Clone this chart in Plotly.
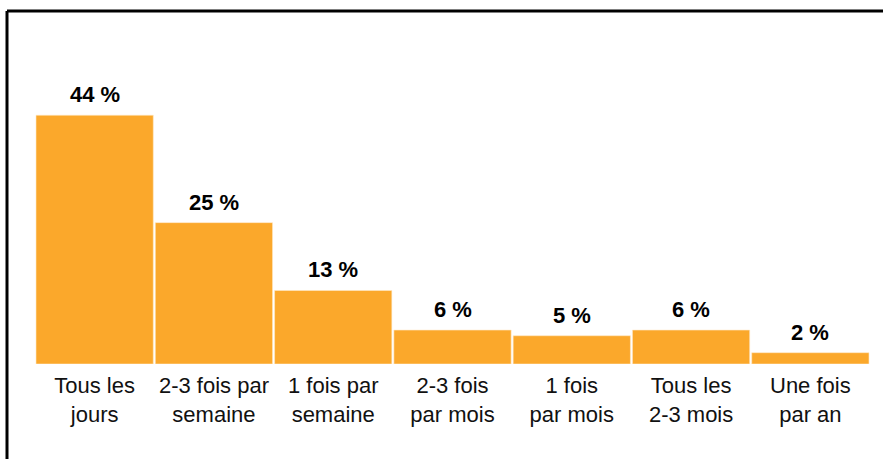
import plotly.graph_objects as go

# Fréquence déclarée
categories = [
    "Tous les<br>jours",
    "2-3 fois par<br>semaine",
    "1 fois par<br>semaine",
    "2-3 fois<br>par mois",
    "1 fois<br>par mois",
    "Tous les<br>2-3 mois",
    "Une fois<br>par an",
]
values = [44, 25, 13, 6, 5, 6, 2]
value_labels = [f"{v} %" for v in values]

BAR_COLOR = "#FBA82B"
FONT = "Liberation Sans, Arial, sans-serif"

W, H = 883, 459
M_L, M_R, M_T, M_B = 35, 13, 40, 95
plot_w = W - M_L - M_R
plot_h = H - M_T - M_B

fig = go.Figure(
    go.Bar(
        x=categories,
        y=values,
        marker=dict(color=BAR_COLOR, line=dict(color="#FFE9C8", width=0.6)),
        cliponaxis=False,
        hoverinfo="skip",
    )
)

# Value labels above each bar
for cat, v, lab in zip(categories, values, value_labels):
    fig.add_annotation(
        x=cat, y=v, text=lab, showarrow=False,
        yanchor="bottom", yshift=6,
        font=dict(family=FONT, size=22, color="#000000", weight="bold"),
    )

# Frame: heavy black line along the top and left edges
def px_to_paper_x(px):
    return (px - M_L) / plot_w

def px_to_paper_y(py):
    return (H - M_B - py) / plot_h

frame = dict(color="#000000", width=3)
fig.add_shape(type="line", xref="paper", yref="paper",
              x0=px_to_paper_x(7), x1=px_to_paper_x(895),
              y0=px_to_paper_y(11), y1=px_to_paper_y(11), line=frame)
fig.add_shape(type="line", xref="paper", yref="paper",
              x0=px_to_paper_x(7), x1=px_to_paper_x(7),
              y0=px_to_paper_y(11), y1=px_to_paper_y(470), line=frame)

fig.update_layout(
    width=W,
    height=H,
    margin=dict(l=M_L, r=M_R, t=M_T, b=M_B, pad=0),
    paper_bgcolor="#FFFFFF",
    plot_bgcolor="#FFFFFF",
    bargap=0.017,
    showlegend=False,
    font=dict(family=FONT, size=22, color="#000000"),
    xaxis=dict(
        showgrid=False, zeroline=False, showline=False, ticks="",
        tickfont=dict(family=FONT, size=22, color="#111111"),
        ticklabelstandoff=6,
        fixedrange=True,
    ),
    yaxis=dict(
        range=[0, 57.3], visible=False, showgrid=False, zeroline=False,
        fixedrange=True,
    ),
)

fig.write_html("out.html", config={"displayModeBar": False})
